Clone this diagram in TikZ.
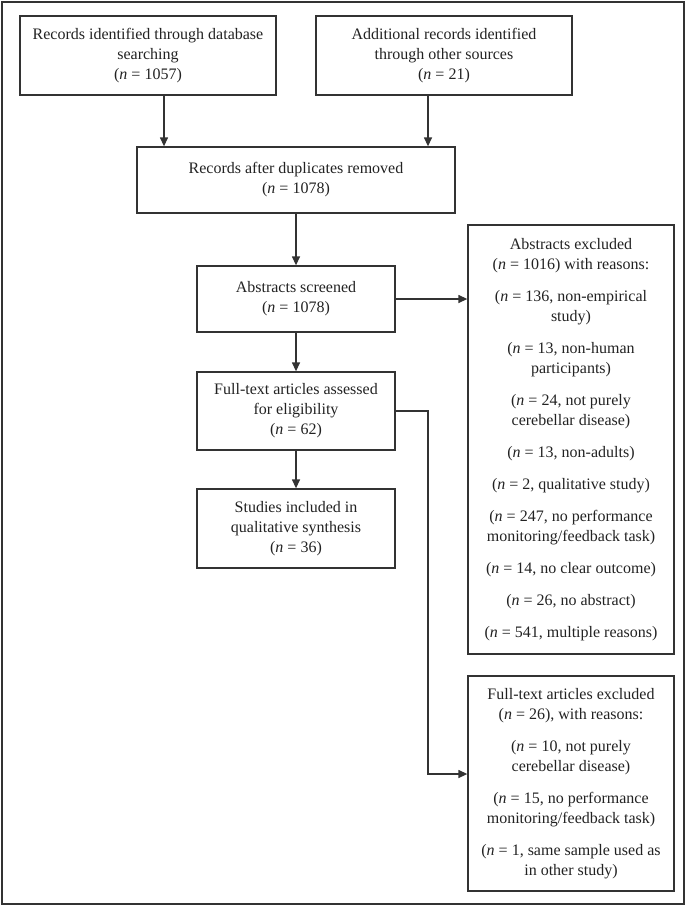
\documentclass[tikz,border=0pt]{standalone}
\usepackage{fontspec}
\setmainfont{Liberation Serif}
\usetikzlibrary{arrows.meta}
\definecolor{ink}{HTML}{333333}
\definecolor{txt}{HTML}{222222}
\newcommand{\nn}{\textit{n}}
\begin{document}
\begin{tikzpicture}[x=1pt,y=-1pt,
  box/.style={draw=ink, line width=1.3pt, align=center, inner sep=0pt, text=txt,
    font=\fontsize{16}{20}\selectfont},
  arr/.style={draw=ink, line width=1.3pt, -{Triangle[length=9pt,width=8pt]}}]
\useasboundingbox (0,0) rectangle (685,905);
\draw[draw=ink, line width=2pt] (1.5,1.5) rectangle (683.5,903.5);

\node[box, minimum width=256pt, minimum height=79pt] (b1) at (148,55.5)
  {Records identified through database\\searching\\(\nn{} = 1057)};
\node[box, minimum width=256pt, minimum height=79pt] (b2) at (444,55.5)
  {Additional records identified\\through other sources\\(\nn{} = 21)};
\node[box, minimum width=318pt, minimum height=66pt] (b3) at (296,180)
  {Records after duplicates removed\\(\nn{} = 1078)};
\node[box, minimum width=198pt, minimum height=66pt] (b4) at (296,299)
  {Abstracts screened\\(\nn{} = 1078)};
\node[box, minimum width=198pt, minimum height=78pt] (b5) at (296,411)
  {Full-text articles assessed\\for eligibility\\(\nn{} = 62)};
\node[box, minimum width=198pt, minimum height=79pt] (b6) at (296,528.5)
  {Studies included in\\qualitative synthesis\\(\nn{} = 36)};
\node[box, minimum width=206pt, minimum height=429pt] (b7) at (571,439.5)
  {Abstracts excluded\\(\nn{} = 1016) with reasons:\\[12pt]
   (\nn{} = 136, non-empirical\\study)\\[12pt]
   (\nn{} = 13, non-human\\participants)\\[12pt]
   (\nn{} = 24, not purely\\cerebellar disease)\\[12pt]
   (\nn{} = 13, non-adults)\\[12pt]
   (\nn{} = 2, qualitative study)\\[12pt]
   (\nn{} = 247, no performance\\monitoring/feedback task)\\[12pt]
   (\nn{} = 14, no clear outcome)\\[12pt]
   (\nn{} = 26, no abstract)\\[12pt]
   (\nn{} = 541, multiple reasons)};
\node[box, minimum width=206pt, minimum height=215pt] (b8) at (571,783.5)
  {Full-text articles excluded\\(\nn{} = 26), with reasons:\\[12pt]
   (\nn{} = 10, not purely\\cerebellar disease)\\[12pt]
   (\nn{} = 15, no performance\\monitoring/feedback task)\\[12pt]
   (\nn{} = 1, same sample used as\\in other study)};

\coordinate (c1) at (164,0);
\coordinate (c2) at (428,0);
\coordinate (c3) at (428,774);
\draw[arr] (b1.south -| c1) -- (b3.north -| c1);
\draw[arr] (b2.south -| c2) -- (b3.north -| c2);
\draw[arr] (b3) -- (b4);
\draw[arr] (b4) -- (b5);
\draw[arr] (b5) -- (b6);
\draw[arr] (b4.east) -- (b7.west |- b4.east);
\draw[arr] (b5.east) -| (c3) -- (b8.west |- c3);
\end{tikzpicture}
\end{document}
